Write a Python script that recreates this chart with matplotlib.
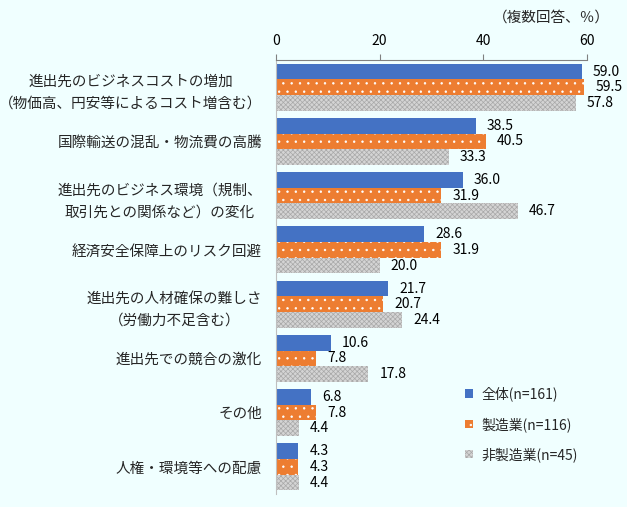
import matplotlib
matplotlib.use("Agg")
import matplotlib.pyplot as plt
import numpy as np

plt.rcParams['font.family'] = ['Noto Sans CJK JP', 'DejaVu Sans']
plt.rcParams['hatch.linewidth'] = 0.5

categories = [
    "進出先のビジネスコストの増加\n（物価高、円安等によるコスト増含む）",
    "国際輸送の混乱・物流費の高騰",
    "進出先のビジネス環境（規制、\n取引先との関係など）の変化",
    "経済安全保障上のリスク回避",
    "進出先の人材確保の難しさ\n（労働力不足含む）",
    "進出先での競合の激化",
    "その他",
    "人権・環境等への配慮",
]
total = [59.0, 38.5, 36.0, 28.6, 21.7, 10.6, 6.8, 4.3]
manuf = [59.5, 40.5, 31.9, 31.9, 20.7, 7.8, 7.8, 4.3]
nonmanuf = [57.8, 33.3, 46.7, 20.0, 24.4, 17.8, 4.4, 4.4]
series_names = ["全体(n=161)", "製造業(n=116)", "非製造業(n=45)"]

bg = "#F0FFFF"
txt = "#262626"

fig = plt.figure(figsize=(6.27, 5.07), dpi=100, facecolor=bg)
ax = fig.add_axes([0.4402, 0.0256, 0.496, 0.856], facecolor=bg)

y = np.arange(len(categories))
h = 0.288

b1 = ax.barh(y - h, total, height=h, color="#4472C4", label=series_names[0])
b2 = ax.barh(y, manuf, height=h, color="#ED7D31", edgecolor="white",
             hatch="..", linewidth=0, label=series_names[1])
b3 = ax.barh(y + h, nonmanuf, height=h, color="#D4D4D4", edgecolor="#A8A8A8",
             hatch="xxxxxxx", linewidth=0, label=series_names[2])
for bars in (b1, b2, b3):
    ax.bar_label(bars, fmt="%.1f", padding=8, fontsize=10, color="black")

ax.set_xlim(0, 60)
ax.set_ylim(len(categories) - 0.5, -0.5)
ax.set_xticks([0, 20, 40, 60])
ax.xaxis.tick_top()
ax.tick_params(axis="x", direction="out", length=4, color="#808080",
               labelsize=10, labelcolor="black", pad=5)
ax.set_yticks(y)
ax.set_yticklabels(categories, fontsize=10.5, color=txt, multialignment="center",
                   linespacing=1.75)
ax.tick_params(axis="y", length=0, pad=10)

for s in ("right", "bottom"):
    ax.spines[s].set_visible(False)
ax.spines["top"].set_color("#808080")
ax.spines["left"].set_color("#BFBFBF")

leg = ax.legend(loc="lower right", bbox_to_anchor=(1.01, 0.045), frameon=False,
                fontsize=10, handlelength=0.55, handleheight=0.55,
                labelspacing=1.1, handletextpad=0.6)
for t in leg.get_texts():
    t.set_color(txt)

fig.text(0.973, 0.965, "（複数回答、％）", ha="right", va="center",
         fontsize=10.5, color=txt)

fig.savefig("out.png", dpi=100, facecolor=bg)
